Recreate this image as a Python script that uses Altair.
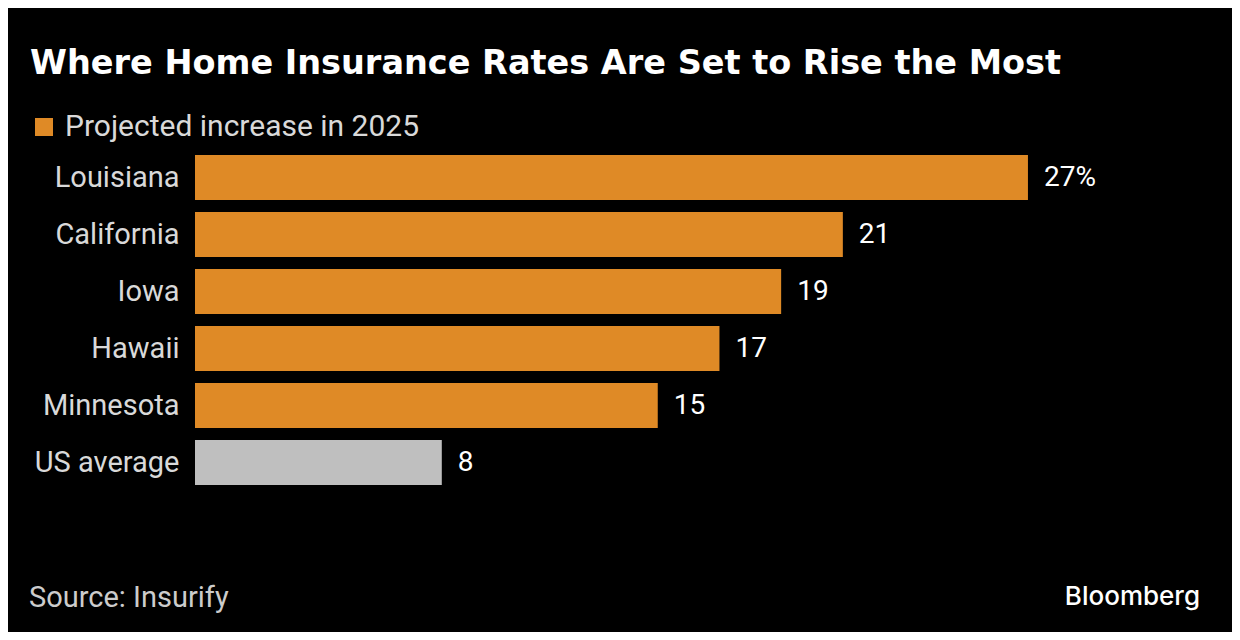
import altair as alt
import pandas as pd

states = ["Louisiana", "California", "Iowa", "Hawaii", "Minnesota", "US average"]
values = [27, 21, 19, 17, 15, 8]
labels = ["27%", "21", "19", "17", "15", "8"]
series = ["Projected increase in 2025"] * 5 + ["US average"]

title_text = "Where Home Insurance Rates Are Set to Rise the Most"
source_text = "Source: Insurify"
brand_text = "Bloomberg"

ORANGE = "#df8a26"
GRAY = "#bfbfbf"
FONT = "Roboto"

df = pd.DataFrame({"state": states, "value": values, "label": labels, "series": series})

W, H = 1000, 342
LEFT, TOP = 187, 141

y_enc = alt.Y(
    "state:N",
    sort=states,
    scale=alt.Scale(paddingInner=12 / 57, paddingOuter=6 / 57),
    axis=alt.Axis(
        title=None, ticks=False, domain=False, labelFontSize=29, labelColor="#d9d9d9",
        labelFont=FONT, labelPadding=16, labelAlign="right", labelLimit=300,
    ),
)
x_scale = alt.Scale(domain=[0, W / 30.85], nice=False, zero=True)

bars = alt.Chart(df).mark_bar().encode(
    x=alt.X("value:Q", scale=x_scale, axis=None),
    y=y_enc,
    color=alt.Color(
        "series:N",
        scale=alt.Scale(domain=["Projected increase in 2025", "US average"], range=[ORANGE, GRAY]),
        legend=alt.Legend(
            title=None, orient="none", legendX=-166, legendY=-37,
            values=["Projected increase in 2025"], symbolType="square", symbolSize=324,
            symbolStrokeWidth=0, labelFontSize=30, labelColor="#d9d9d9", labelFont=FONT,
            labelOffset=6, labelLimit=600,
        ),
    ),
)

text = alt.Chart(df).mark_text(
    align="left", baseline="middle", dx=16, fontSize=28, color="white", font=FONT
).encode(
    x=alt.X("value:Q", scale=x_scale),
    y=alt.Y("state:N", sort=states),
    text="label:N",
)

annot = pd.DataFrame({"t": [title_text]})
title = alt.Chart(annot).mark_text(
    align="left", baseline="alphabetic", fontSize=33.5, fontWeight="bold", color="white",
    font="DejaVu Sans",
).encode(x=alt.value(-165), y=alt.value(-75), text="t:N")

src = alt.Chart(pd.DataFrame({"t": [source_text]})).mark_text(
    align="left", baseline="alphabetic", fontSize=29, color="#cccccc", font=FONT,
).encode(x=alt.value(-166), y=alt.value(458), text="t:N")

brand = alt.Chart(pd.DataFrame({"t": [brand_text]})).mark_text(
    align="right", baseline="alphabetic", fontSize=26, fontWeight=500, color="white",
    font="Inter",
).encode(x=alt.value(1005), y=alt.value(456), text="t:N")

chart = alt.layer(bars, text, title, src, brand).properties(
    width=W, height=H,
    background="black",
    padding={"left": LEFT, "top": TOP, "right": 1224 - LEFT - W, "bottom": 624 - TOP - H},
    autosize=alt.AutoSizeParams(type="none"),
).configure_view(stroke=None)

chart.save("out.html", embed_options={"renderer": "svg", "actions": False})
